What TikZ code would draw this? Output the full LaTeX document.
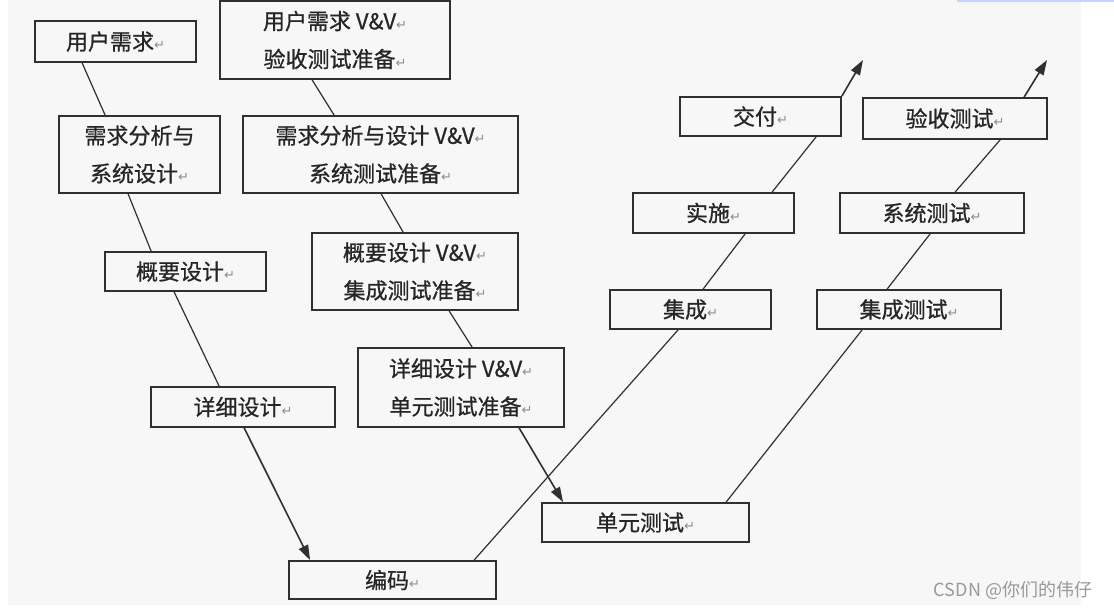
\documentclass[tikz,border=0pt]{standalone}
\usepackage{fontspec}
\newfontfamily\cjk[FakeBold=0.8]{Noto Sans CJK SC}
\newfontfamily\cjkplain{Noto Sans CJK SC}
\newfontfamily\dvs{DejaVu Sans}
\usetikzlibrary{arrows.meta,calc}
\definecolor{bg}{HTML}{F7F7F7}
\definecolor{ln}{HTML}{303030}
\definecolor{topline}{HTML}{C9D2FF}
\newcommand\retmark{{\dvs\fontsize{13}{13}\selectfont\color{black!45}↵}}
\begin{document}
\begin{tikzpicture}[x=1pt,y=-1pt,
 box/.style={draw=ln, line width=1.8pt, inner sep=0pt, align=center, font={\cjk\fontsize{22}{38}\selectfont}, text=black!85},
 conn/.style={draw=ln, line width=1.2pt},
 arr/.style={draw=ln, line width=1.6pt, -{Triangle[length=15pt,width=10pt]}}]
\useasboundingbox (0,0) rectangle (1114,609);
\fill[white] (0,0) rectangle (1114,609);
\fill[bg] (8,0) rectangle (1081,605);
\fill[topline] (957,0) rectangle (1114,2);

% left chain
\node[box, minimum width=161pt, minimum height=41pt] (u1) at (115.5,41.5) {用户需求\retmark};
\node[box, minimum width=161pt, minimum height=77pt] (u2) at (139.5,154.5) {需求分析与\\系统设计\retmark};
\node[box, minimum width=161pt, minimum height=39pt] (u3) at (185.5,271.5) {概要设计\retmark};
\node[box, minimum width=184pt, minimum height=40pt] (u4) at (243,407) {详细设计\retmark};
\node[box, minimum width=207pt, minimum height=38pt] (code) at (392.5,580) {编码\retmark};

% middle chain
\node[box, minimum width=230pt, minimum height=78pt] (v1) at (335,40) {用户需求 V\&V\retmark\\验收测试准备\retmark};
\node[box, minimum width=275pt, minimum height=77pt] (v2) at (380.5,154.5) {需求分析与设计 V\&V\retmark\\系统测试准备\retmark};
\node[box, minimum width=206pt, minimum height=77pt] (v3) at (415,271.5) {概要设计 V\&V\retmark\\集成测试准备\retmark};
\node[box, minimum width=206pt, minimum height=79pt] (v4) at (461,387.5) {详细设计 V\&V\retmark\\单元测试准备\retmark};
\node[box, minimum width=207pt, minimum height=39pt] (ut) at (645.5,522.5) {单元测试\retmark};

% right chains
\node[box, minimum width=161pt, minimum height=39pt] (jc) at (690.5,309.5) {集成\retmark};
\node[box, minimum width=161pt, minimum height=40pt] (ss) at (713.5,213) {实施\retmark};
\node[box, minimum width=161pt, minimum height=39pt] (jf) at (760.5,116.5) {交付\retmark};
\node[box, minimum width=184pt, minimum height=39pt] (it) at (909,309.5) {集成测试\retmark};
\node[box, minimum width=184pt, minimum height=40pt] (st) at (932,213) {系统测试\retmark};
\node[box, minimum width=184pt, minimum height=41pt] (ys) at (955,118.5) {验收测试\retmark};

\coordinate (e1) at (863,60);
\coordinate (e2) at (1047,60);

% connectors left
\draw[conn] ($(u1.south west)+(48,0)$) -- ($(u2.north west)+(47,0)$);
\draw[conn] ($(u2.south west)+(70,0)$) -- ($(u3.north west)+(47,0)$);
\draw[conn] ($(u3.south west)+(70,0)$) -- ($(u4.north west)+(69,0)$);
\draw[arr] ($(u4.south west)+(94,0)$) -- ($(code.north west)+(22,0)$);
% connectors middle
\draw[conn] ($(v1.south west)+(93,0)$) -- ($(v2.north west)+(92,0)$);
\draw[conn] ($(v2.south west)+(139,0)$) -- ($(v3.north west)+(92,0)$);
\draw[conn] ($(v3.south west)+(138,0)$) -- ($(v4.north west)+(115,0)$);
\draw[arr] ($(v4.south west)+(162,0)$) -- ($(ut.north west)+(22,0)$);
% connectors right 1
\draw[conn] ($(code.north west)+(186,0)$) -- ($(jc.south west)+(69,0)$);
\draw[conn] ($(jc.north west)+(94,0)$) -- ($(ss.south west)+(113,0)$);
\draw[conn] ($(ss.north west)+(140,0)$) -- ($(jf.south west)+(137,0)$);
\draw[arr] (jf.north east) -- (e1);
% connectors right 2
\draw[conn] ($(ut.north west)+(185,0)$) -- ($(it.south west)+(46,0)$);
\draw[conn] ($(it.north west)+(71,0)$) -- ($(st.south west)+(91,0)$);
\draw[conn] ($(st.north west)+(116,0)$) -- ($(ys.south west)+(138,0)$);
\draw[arr] ($(ys.north west)+(162,0)$) -- (e2);

\node[font={\cjkplain\fontsize{18}{18}\selectfont}, text=black!40] (wm) at (1013,590) {CSDN @你们的伟仔};
\end{tikzpicture}
\end{document}
